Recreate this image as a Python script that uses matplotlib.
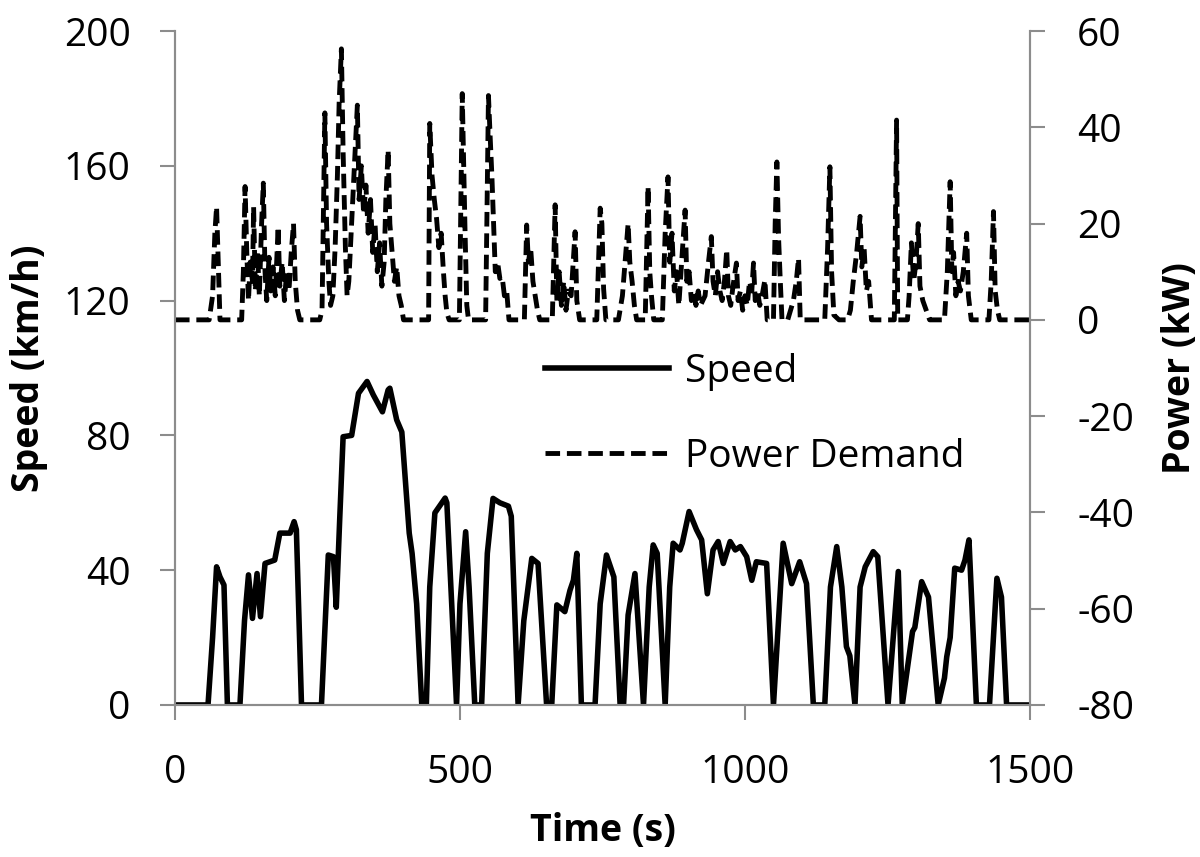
import matplotlib
matplotlib.use('Agg')
import matplotlib.pyplot as plt

plt.rcParams['font.family'] = ['Open Sans', 'DejaVu Sans']
plt.rcParams['axes.unicode_minus'] = False

# speed trace (s, km/h)
speed_time = [0, 58, 66, 73, 79, 86, 92, 114, 122, 129, 136, 144, 150, 158, 175, 184, 202, 209, 213,
              222, 257, 269, 278, 283, 289, 295, 310, 322, 337, 348, 364, 374, 377, 389, 398, 411, 416,
              424, 433, 441, 447, 456, 474, 477, 494, 500, 510, 516, 526, 538, 548, 558, 570, 585, 590,
              602, 612, 626, 637, 652, 661, 670, 684, 693, 699, 705, 713, 737, 746, 757, 770, 781, 787,
              795, 807, 822, 832, 839, 846, 860, 868, 874, 886, 890, 902, 915, 924, 934, 944, 953, 962,
              974, 983, 992, 1003, 1012, 1020, 1038, 1050, 1067, 1082, 1096, 1108, 1120, 1140, 1150,
              1161, 1170, 1178, 1184, 1193, 1202, 1211, 1225, 1233, 1251, 1269, 1276, 1294, 1298, 1310,
              1322, 1339, 1350, 1354, 1360, 1368, 1380, 1386, 1393, 1406, 1429, 1442, 1450, 1459, 1500]
speed_kmh = [0, 0, 20, 41, 38, 35.6, 0, 0, 25, 38.6, 25.7, 39, 26.2, 42, 43, 51, 51, 54.4, 52,
             0, 0, 44.5, 44, 29, 55, 79.6, 80, 92.5, 96, 92, 87, 93.5, 94, 84.6, 81, 51, 45,
             30, 0, 0, 35, 57, 61.4, 60, 0, 30, 51.4, 35, 0, 0, 45, 61.3, 60, 59, 56,
             0, 25, 43.5, 42, 0, 0, 29.7, 27.7, 34, 37, 45, 0, 0, 30, 44.5, 38, 0, 0,
             26.7, 39, 0, 35, 47.5, 45, 0, 35, 48, 46, 48, 57.4, 52, 49, 33, 46, 48.5, 42,
             48.5, 46, 47, 44, 37, 42.5, 42, 0, 48, 36, 42.5, 36, 0, 0, 35,
             47, 35, 17.3, 14.6, 0, 35, 41, 45.5, 44, 0, 39.6, 0, 21.8, 23, 36.6,
             32, 0, 8, 14.3, 20, 40.6, 40, 43, 49, 0, 0, 37.6, 32, 0, 0]

# power demand trace (s, kW)
power_time = [0, 60, 66, 70, 73, 76, 79, 117, 120, 123, 126, 129, 132, 136, 138, 141, 145, 148, 152,
              155, 158, 161, 165, 168, 172, 176, 181, 184, 188, 192, 196, 200, 204, 208, 211, 215,
              219, 254, 258, 263, 266, 270, 273, 277, 281, 285, 288, 292, 295, 299, 302, 305, 310,
              314, 318, 320, 323, 327, 331, 335, 339, 343, 347, 351, 355, 359, 363, 367, 370, 374,
              377, 381, 385, 389, 393, 397, 401, 445, 447, 451, 455, 459, 463, 467, 471, 474, 477,
              481, 499, 504, 507, 509, 512, 515, 545, 550, 553, 556, 559, 562, 566, 570, 574, 578,
              582, 586, 613, 617, 620, 624, 628, 632, 636, 640, 662, 667, 670, 674, 678, 682, 686,
              690, 695, 702, 705, 710, 740, 746, 749, 752, 756, 778, 785, 791, 795, 798, 802, 806,
              810, 825, 830, 833, 836, 840, 855, 860, 865, 868, 872, 876, 880, 884, 890, 895, 898,
              902, 906, 910, 914, 918, 922, 930, 936, 941, 944, 948, 952, 956, 960, 964, 968, 971,
              975, 979, 985, 988, 992, 996, 1000, 1004, 1008, 1012, 1015, 1018, 1022, 1026, 1030,
              1035, 1039, 1050, 1053, 1056, 1059, 1062, 1065, 1075, 1080, 1085, 1090, 1094, 1097,
              1140, 1145, 1149, 1152, 1156, 1165, 1180, 1185, 1190, 1196, 1202, 1205, 1209, 1213,
              1217, 1222, 1262, 1266, 1268, 1285, 1288, 1292, 1296, 1300, 1304, 1307, 1312, 1318,
              1324, 1350, 1355, 1360, 1363, 1366, 1370, 1374, 1378, 1383, 1389, 1392, 1397, 1428,
              1432, 1436, 1439, 1443, 1447, 1500]
power_kw = [0, 0, 5, 18, 23.5, 12, 0, 0, 10, 27.7, 14, 4, 12, 8, 23.5, 6, 14, 5, 20,
            28.4, 10, 4, 13, 6, 11, 5, 19.4, 7, 12, 4, 10, 6, 14, 20, 8, 2,
            0, 0, 2, 43, 20, 8, 3, 5, 15, 30, 45, 56.3, 35, 15, 5, 8, 20,
            30, 40, 44.6, 25, 32, 22, 28, 18, 25, 14, 20, 10, 16, 7, 12, 25, 35.3,
            20, 14, 8, 11, 5, 3, 0, 0, 40.8, 30, 25, 21, 15, 18, 10, 5, 1.5,
            0, 0, 47, 30, 18, 3, 0, 0, 46.6, 38, 30, 20, 10, 12, 8.6, 9, 5,
            6, 0, 0, 19.7, 12, 15, 8, 5, 2, 0, 0, 23.9, 4, 10, 3, 8, 2,
            6, 5, 18.3, 4, 0, 0, 23.2, 20, 6.5, 0, 0, 5, 14, 20, 12, 8, 3,
            0, 0, 27.7, 10, 5, 0, 0, 18, 29.7, 12, 18, 6, 10, 3, 14, 22.8, 8,
            10, 4, 6, 3, 6, 3, 5, 12, 17.3, 8, 5, 10, 6, 4, 8, 14.6, 5,
            3, 7, 11.8, 4, 6, 2, 5, 3, 8, 6, 11.8, 4, 6, 3, 5,
            8.3, 0, 0, 20, 32.8, 17, 8, 0, 0, 2, 4, 8, 12.8, 0,
            0, 15, 31.8, 10, 1, 0, 0, 2, 8, 14, 21.5, 11, 15, 6,
            8, 0, 0, 41.5, 0, 0, 5, 16, 8, 12, 20, 7, 4, 2,
            0, 0, 10, 28.7, 10, 14, 5, 8, 6, 10, 18, 5, 0, 0,
            8, 22.5, 6, 2, 0, 0]

spine_gray = '#8c8c8c'
fs = 28

fig = plt.figure(figsize=(12, 8.57), dpi=100)
ax = fig.add_axes([0.1458, 0.1774, 0.7125, 0.7864])
ax2 = ax.twinx()

l1, = ax.plot(speed_time, speed_kmh, color='black', linewidth=4, solid_joinstyle='round',
              label='Speed', zorder=3)
l2, = ax2.plot(power_time, power_kw, color='black', linewidth=3.5,
               linestyle=(0, (3, 1.4)), label='Power Demand')

ax.set_xlim(0, 1500)
ax.set_ylim(0, 200)
ax2.set_ylim(-80, 60)
ax.set_xticks([0, 500, 1000, 1500])
ax.set_yticks([0, 40, 80, 120, 160, 200])
ax2.set_yticks([-80, -60, -40, -20, 0, 20, 40, 60])

for a in (ax, ax2):
    a.spines['top'].set_visible(False)
    for s in ('left', 'right', 'bottom'):
        a.spines[s].set_color(spine_gray)
        a.spines[s].set_linewidth(1.5)
    a.tick_params(colors=spine_gray, labelcolor='black', length=11, width=1.5, labelsize=fs)

ax.tick_params(axis='y', pad=21)
ax.tick_params(axis='x', pad=24)
ax2.tick_params(axis='y', pad=23)

ax.set_xlabel('Time (s)', fontsize=27, fontweight='bold')
ax.set_ylabel('Speed (km/h)', fontsize=27, fontweight='bold')
ax2.set_ylabel('Power (kW)', fontsize=27, fontweight='bold')
ax.xaxis.set_label_coords(0.5, -0.159)
ax.yaxis.set_label_coords(-0.1485, 0.5)
ax2.yaxis.set_label_coords(1.153, 0.5)

ax2.legend(handles=[l1, l2], loc='upper left', bbox_to_anchor=(0.454, 0.588),
           bbox_transform=fig.transFigure, frameon=False, fontsize=fs,
           borderpad=0, borderaxespad=0, handlelength=3.2, handletextpad=0.4,
           labelspacing=1.2)

fig.savefig('out.png', dpi=100)
